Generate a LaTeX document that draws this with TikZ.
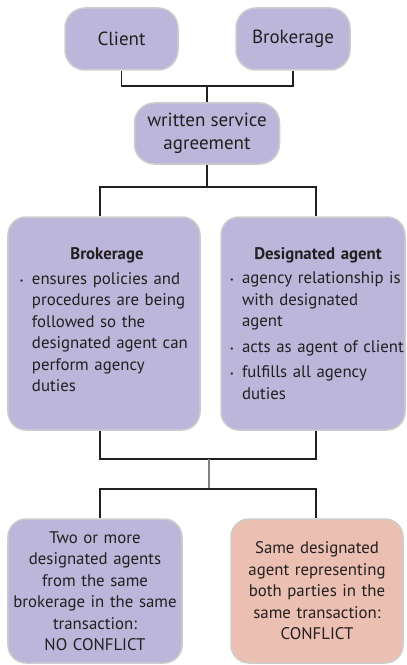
\documentclass[tikz,border=0pt]{standalone}
\usepackage{fontspec}
\setmainfont{PT Sans}
\usepackage{tikz}
\usepackage{xcolor}
\definecolor{boxpurple}{HTML}{BBB6DA}
\definecolor{boxsalmon}{HTML}{EBBFB1}
\definecolor{boxline}{HTML}{CDCDCD}
\definecolor{ink}{HTML}{231F20}
\newcommand{\listpt}[2][0bp]{\par\vspace{#1}\noindent\hangindent=12bp\hangafter=1
  \makebox[12bp][l]{\raisebox{1bp}{\footnotesize\textbullet}}#2\par}

\begin{document}
\begin{tikzpicture}[x=1bp,y=-1bp,
    box/.style={draw=boxline, line width=1.5bp, fill=boxpurple, text=ink,
      rounded corners=18bp, inner sep=0pt, align=center,
      font=\fontsize{16.8bp}{21.5bp}\selectfont},
    topbox/.style={box, rounded corners=20bp, font=\fontsize{19bp}{23bp}\selectfont},
    link/.style={ink, line width=1.5bp}]
  \useasboundingbox (0,0) rectangle (406,665);
  % top row
  \node[topbox, minimum width=113bp, minimum height=62bp] (client) at (121.5,39) {Client};
  \node[topbox, minimum width=114bp, minimum height=62bp] (brok) at (293,39) {Brokerage};
  \node[topbox, minimum width=145bp, minimum height=61bp] (agree) at (207,133.5) {written service\\agreement};
  % middle row
  \node[box, minimum width=192bp, minimum height=213bp, text width=200bp, inner xsep=-4bp, align=left] (brokbox) at (104,323.5) {%
    {\centering\hspace*{6bp}\textbf{Brokerage}\par}\leftskip=16bp
    \listpt[3bp]{ensures policies and\newline procedures are being\newline followed so the\newline designated agent can\newline perform agency\newline duties}\vspace{7bp}};
  \node[box, minimum width=184bp, minimum height=213bp, text width=200bp, inner xsep=-8bp, align=left] (desbox) at (313,323.5) {%
    {\centering\hspace*{10bp}\textbf{Designated agent}\par}\leftskip=17bp
    \listpt[3bp]{agency relationship is\newline with designated\newline agent}
    \listpt[4bp]{acts as agent of client}
    \listpt[4bp]{fulfills all agency\newline duties}};
  % bottom row
  \node[box, minimum width=174bp, minimum height=144bp, text width=190bp, inner xsep=-8bp] (nocon) at (95,591) {Two or more\\designated agents\\from the same\\brokerage in the same\\transaction:\\NO CONFLICT};
  \node[box, fill=boxsalmon, minimum width=172bp, minimum height=144bp, text width=190bp, inner xsep=-9bp] (conflict) at (317,591) {Same designated\\agent representing\\both parties in the\\same transaction:\\CONFLICT};
  % junctions
  \coordinate (j1) at (agree.north |- 0,86);
  \coordinate (j2) at (agree.south |- 0,187);
  \coordinate (j3) at (209,459);
  \coordinate (j4) at (209,489);
  % connectors
  \draw[link] (client.south) |- (j1) -| (brok.south);
  \draw[link] (j1) -- (agree.north);
  \draw[link] (agree.south) -- (j2);
  \draw[link] ([xshift=-4bp]brokbox.north) |- (j2) -| ([xshift=3bp]desbox.north);
  \draw[link] ([xshift=-4bp]brokbox.south) |- (j3) -| ([xshift=3bp]desbox.south);
  \draw[link, gray] (j3) -- (j4);
  \draw[link] ([xshift=5bp]nocon.north) |- (j4) -| ([xshift=-1bp]conflict.north);
\end{tikzpicture}
\end{document}
